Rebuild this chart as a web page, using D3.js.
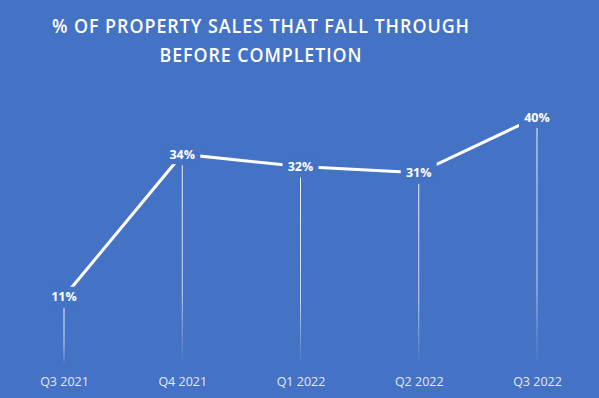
<!DOCTYPE html>
<html>
<head>
<meta charset="utf-8">
<script src="https://cdn.jsdelivr.net/npm/d3@7"></script>
<style>
  html, body { margin: 0; padding: 0; background: #4472c4; }
  svg { display: block; }
</style>
</head>
<body>
<div class="chart"></div>
<script>
const quarters = ["Q3 2021", "Q4 2021", "Q1 2022", "Q2 2022", "Q3 2022"];
const fallThrough = [11, 34, 32, 31, 40];
const titleLines = ["% OF PROPERTY SALES THAT FALL THROUGH", "BEFORE COMPLETION"];

const width = 599,
    height = 398,
    bg = "#4472c4";

const svg = d3.select(".chart")
    .append("svg")
    .attr("width", width)
    .attr("height", height);

svg.append("rect")
    .attr("width", width)
    .attr("height", height)
    .attr("fill", bg);

// fading gradient for the drop lines
const grad = svg.append("defs")
    .append("linearGradient")
    .attr("id", "drop")
    .attr("x1", 0).attr("y1", 0)
    .attr("x2", 0).attr("y2", 1);
grad.append("stop").attr("offset", "0%").attr("stop-color", "#fff").attr("stop-opacity", 0.9);
grad.append("stop").attr("offset", "65%").attr("stop-color", "#fff").attr("stop-opacity", 0.7);
grad.append("stop").attr("offset", "100%").attr("stop-color", "#fff").attr("stop-opacity", 0);

// title
svg.selectAll(".title")
    .data(titleLines)
    .join("text")
    .attr("class", "title")
    .attr("x", 261)
    .attr("y", (d, i) => 33 + i * 29)
    .attr("text-anchor", "middle")
    .attr("fill", "#fff")
    .style("font-family", "'Open Sans', sans-serif")
    .style("font-weight", "600")
    .style("font-size", "19px")
    .style("letter-spacing", "1px")
    .attr("textLength", (d, i) => i === 0 ? 418 : 203)
    .attr("lengthAdjust", "spacingAndGlyphs")
    .text(d => d);

const x = d3.scalePoint()
    .domain(quarters)
    .range([64, 537]);

const y = d3.scaleLinear()
    .domain([0, 40])
    .range([365, 117]);

const data = quarters.map((q, i) => ({ q: q, v: fallThrough[i] }));

// drop lines
svg.selectAll(".drop")
    .data(data)
    .join("rect")
    .attr("class", "drop")
    .attr("x", d => x(d.q) - 0.5)
    .attr("y", d => y(d.v) + 11)
    .attr("width", 1)
    .attr("height", d => y(0) - y(d.v) - 11)
    .attr("fill", "url(#drop)");

// the line
const line = d3.line()
    .x(d => x(d.q))
    .y(d => y(d.v));

svg.append("path")
    .datum(data)
    .attr("d", line)
    .attr("fill", "none")
    .attr("stroke", "#fff")
    .attr("stroke-width", 3);

// data labels with a background box that cuts the line
const labels = svg.selectAll(".lbl")
    .data(data)
    .join("g")
    .attr("class", "lbl")
    .attr("transform", d => `translate(${x(d.q)},${y(d.v)})`);

labels.append("rect")
    .attr("x", -18)
    .attr("y", -10)
    .attr("width", 36)
    .attr("height", 20)
    .attr("fill", bg);

labels.append("text")
    .attr("text-anchor", "middle")
    .attr("dy", "0.36em")
    .attr("fill", "#fff")
    .style("font-family", "'Open Sans', sans-serif")
    .style("font-weight", "bold")
    .style("font-size", "12.5px")
    .text(d => d.v + "%");

// x axis labels
const xAxis = svg.append("g")
    .attr("transform", "translate(0,381)")
    .call(d3.axisBottom(x).tickSize(0).tickPadding(0));

xAxis.select(".domain").remove();
xAxis.selectAll("text")
    .attr("dy", "0.36em")
    .attr("fill", "#e4eaf6")
    .style("font-family", "'Open Sans', sans-serif")
    .style("font-size", "12.5px");
</script>
</body>
</html>
